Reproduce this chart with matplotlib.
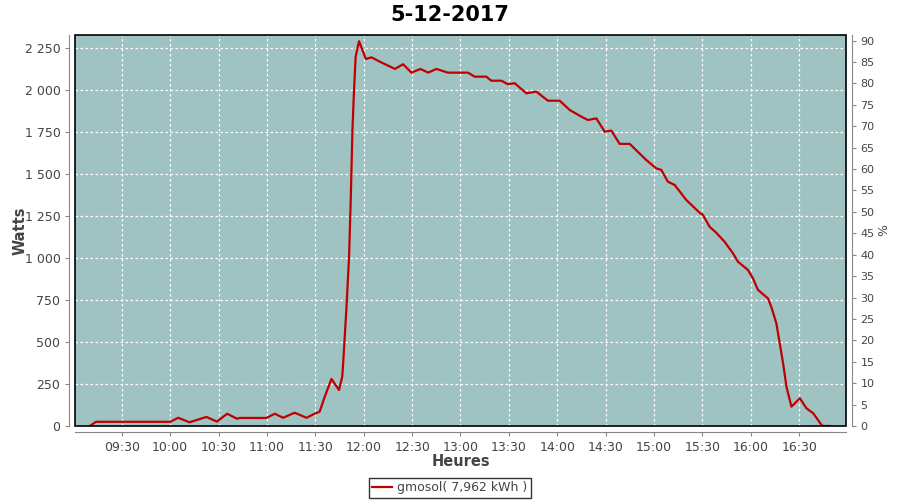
import matplotlib
matplotlib.use("Agg")
import matplotlib.pyplot as plt
from matplotlib.ticker import FuncFormatter, MultipleLocator
from matplotlib.patches import Rectangle

# releve du 5-12-2017 (heure, watts)
heures = ["09:10:12", "09:14:00", "10:00:00", "10:05:00", "10:12:00", "10:22:30", "10:29:00",
          "10:35:20", "10:41:30", "10:43:00", "10:59:40", "11:04:50", "11:10:00", "11:17:10",
          "11:24:30", "11:29:35", "11:32:40", "11:35:50", "11:40:00", "11:44:40", "11:46:40",
          "11:47:15", "11:49:20", "11:50:55", "11:52:00", "11:53:00", "11:54:00", "11:55:00",
          "11:57:05", "12:01:20", "12:04:50", "12:10:00", "12:19:20", "12:24:25", "12:29:35",
          "12:35:10", "12:40:00", "12:45:00", "12:52:10", "13:04:35", "13:08:50", "13:16:00",
          "13:19:05", "13:25:20", "13:29:25", "13:33:35", "13:40:50", "13:47:00", "13:54:10",
          "14:01:30", "14:07:40", "14:14:55", "14:19:00", "14:24:10", "14:29:25", "14:33:30",
          "14:38:40", "14:44:55", "14:55:10", "15:01:25", "15:04:30", "15:08:35", "15:12:50",
          "15:20:00", "15:28:10", "15:30:20", "15:34:25", "15:38:35", "15:43:40", "15:48:55",
          "15:52:00", "15:58:10", "16:01:20", "16:04:25", "16:10:35", "16:12:40", "16:15:50",
          "16:17:55", "16:20:00", "16:22:05", "16:25:10", "16:30:25", "16:34:30", "16:38:40",
          "16:43:50", "16:44:50", "16:49:00"]
watts = [0, 25, 25, 49, 22, 54, 26,
         73, 43, 48, 48, 73, 49, 79,
         49, 73, 85, 174, 280, 214, 293,
         373, 710, 1008, 1365, 1762, 2000, 2198,
         2290, 2184, 2194, 2168, 2125, 2153, 2103,
         2125, 2103, 2125, 2103, 2103, 2079, 2079,
         2055, 2055, 2034, 2040, 1980, 1990, 1936,
         1936, 1881, 1841, 1821, 1831, 1752, 1758,
         1679, 1679, 1583, 1533, 1524, 1454, 1434,
         1345, 1270, 1256, 1186, 1150, 1097, 1028,
         978, 929, 879, 810, 760, 710, 611,
         492, 373, 234, 115, 165, 105, 76,
         6, 0, 0]
titre = "5-12-2017"
legende = "gmosol( 7,962 kWh )"

def en_heures(s):
    h, m, sec = [int(v) for v in s.split(":")]
    return h + m / 60. + sec / 3600.

x = [en_heures(h) for h in heures]

fig = plt.figure(figsize=(9, 5), dpi=100)
ax = fig.add_axes([75/900., 74/500., 771/900., 391/500.])
ax.set_facecolor("#9ec3c2")

# grille blanche en pointilles
ax.grid(True, color="white", linestyle=(0, (2, 2)), linewidth=0.9)
ax.set_axisbelow(True)

ax.plot(x, watts, color="#c00000", linewidth=1.6, zorder=3)

ax.set_xlim(en_heures("09:01:00"), en_heures("16:59:00"))
ax.set_ylim(0, 2327)
ax.xaxis.set_major_locator(MultipleLocator(0.5))
ax.xaxis.set_major_formatter(FuncFormatter(lambda v, p: "%02d:%02d" % (int(v + 1e-6), int(round((v % 1) * 60)) % 60)))
ax.yaxis.set_major_locator(MultipleLocator(250))
ax.yaxis.set_major_formatter(FuncFormatter(lambda v, p: "{:,}".format(int(v)).replace(",", " ")))

ax2 = ax.twinx()
ax2.set_ylim(0, 91.3)
ax2.yaxis.set_major_locator(MultipleLocator(5))

gris = "#888888"
texte = "#444444"
for a in (ax, ax2):
    for s in a.spines.values():
        s.set_visible(False)
    a.tick_params(colors=gris, labelcolor=texte, labelsize=9, length=3, width=0.8)

ax.spines["left"].set_visible(True)
ax.spines["bottom"].set_visible(True)
ax.spines["left"].set_position(("outward", 4))
ax.spines["bottom"].set_position(("outward", 4))
ax.spines["left"].set_color(gris)
ax.spines["bottom"].set_color(gris)
ax2.spines["right"].set_visible(True)
ax2.spines["right"].set_position(("outward", 4))
ax2.spines["right"].set_color(gris)
ax2.tick_params(labelsize=8)

# cadre noir autour de la zone de trace
ax.add_patch(Rectangle((0, 0), 1, 1, transform=ax.transAxes, fill=False,
                       edgecolor="black", linewidth=1.2, clip_on=False, zorder=5))

ax.set_xlabel("Heures", fontsize=10.5, fontweight="bold", color=texte)
ax.set_ylabel("Watts", fontsize=10.5, fontweight="bold", color=texte)
ax.xaxis.set_label_coords(0.5, -0.072)
ax.yaxis.set_label_coords(-0.061, 0.5)
ax2.set_ylabel("%", fontsize=9, color=texte, labelpad=2)
fig.suptitle(titre, x=0.5, y=0.99, fontsize=15, fontweight="bold")

leg = fig.legend([ax.lines[0]], [legende], loc="lower center", bbox_to_anchor=(0.5, 0.004),
                 borderaxespad=0, fontsize=9, frameon=True, fancybox=False, handlelength=1.6,
                 borderpad=0.3, handletextpad=0.4)
leg.get_frame().set_edgecolor("black")
leg.get_frame().set_linewidth(1.0)
for t in leg.get_texts():
    t.set_color(texte)

fig.savefig("out.png", dpi=100)
